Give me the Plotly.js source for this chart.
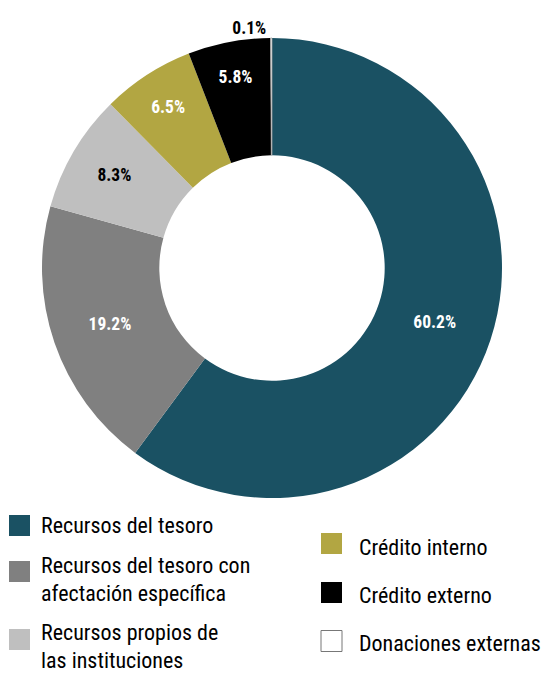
<!DOCTYPE html>
<html>
<head>
<meta charset="utf-8">
<script src="https://cdn.plot.ly/plotly-3.0.1.min.js"></script>
<style>html,body{margin:0;padding:0;background:#fff;}#chart{width:548px;height:673px;}</style>
</head>
<body>
<div id="chart"></div>
<script>
const categories = ["Recursos del tesoro", "Recursos del tesoro con<br>afectación específica", "Recursos propios de<br>las instituciones", "Crédito interno", "Crédito externo", "Donaciones externas"];
const shares = [60.2, 19.2, 8.3, 6.5, 5.8, 0.1];
const colors = ["#1a5163", "#808080", "#bfbfbf", "#b2a642", "#000000", "#ffffff"];
const textColors = ["#ffffff", "#ffffff", "#000000", "#ffffff", "#ffffff", "#000000"];

const FONT = '"Roboto Condensed", "DejaVu Sans Condensed", Roboto, sans-serif';
const H = 673, W = 548;

const pie = {
  type: 'pie',
  labels: categories,
  values: shares,
  sort: false,
  direction: 'clockwise',
  rotation: 0,
  hole: 0.49,
  marker: {colors: colors, line: {color: ["rgba(0,0,0,0)","rgba(0,0,0,0)","rgba(0,0,0,0)","rgba(0,0,0,0)","rgba(0,0,0,0)","#9a9a9a"], width: 0.8}},
  texttemplate: '<b>%{value:.1f}%</b>',
  textposition: ['inside','inside','inside','inside','inside','outside'],
  insidetextorientation: 'horizontal',
  textfont: {family: FONT, size: 17.5, color: textColors},
  showlegend: false,
  domain: {x: [42/W, 502/W], y: [(H-498)/H, (H-38)/H]},
  hoverinfo: 'label+percent'
};

// legend built from the category/colour arrays
const legendCol = [0, 0, 0, 1, 1, 1];
const swatchCenterY = [525.5, 571.5, 639.5, 543.5, 592.5, 641];
const firstBaseline = [532, 572, 639, 554, 602, 650];
const LINE_GAP = 28;
const shapes = [], annotations = [];
categories.forEach((c, i) => {
  const sx = legendCol[i] === 0 ? 9 : 321;
  const tx = legendCol[i] === 0 ? 40 : 358;
  const yc = swatchCenterY[i];
  shapes.push({type: 'rect', xref: 'paper', yref: 'paper',
    x0: sx/W, x1: (sx+21)/W, y0: (H-yc-10.5)/H, y1: (H-yc+10.5)/H,
    fillcolor: colors[i], line: {color: i === 5 ? '#777' : colors[i], width: i === 5 ? 1 : 0}});
  c.split('<br>').forEach((line, k) => {
    const base = firstBaseline[i] + k*LINE_GAP;
    annotations.push({xref: 'paper', yref: 'paper', x: tx/W, y: (H-(base-7))/H,
      xanchor: 'left', yanchor: 'middle', align: 'left', showarrow: false, borderpad: 0,
      text: line, font: {family: FONT, size: 22, color: '#000'}});
  });
});

const layout = {
  width: W, height: H,
  margin: {l: 0, r: 0, t: 0, b: 0},
  paper_bgcolor: '#fff',
  shapes: shapes, annotations: annotations,
  font: {family: FONT}
};
Plotly.newPlot('chart', [pie], layout, {displayModeBar: false, staticPlot: true});
</script>
</body>
</html>
